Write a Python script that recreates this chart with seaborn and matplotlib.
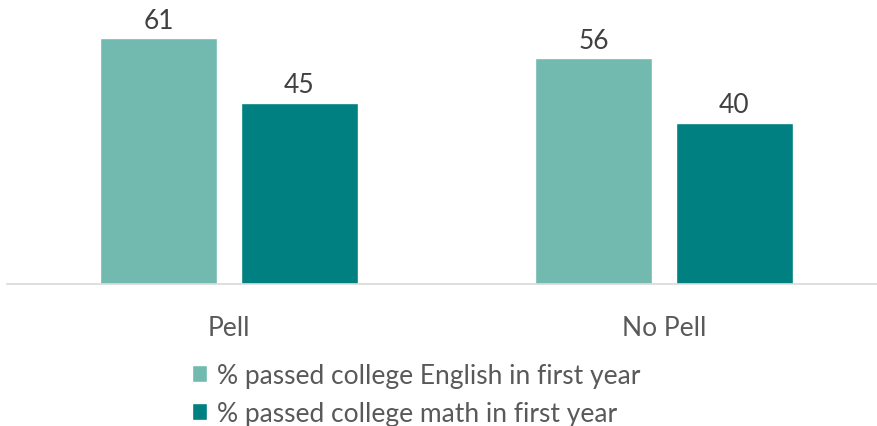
import pandas as pd
import matplotlib.pyplot as plt
import seaborn as sns

# Data
groups = ['Pell', 'No Pell']
series = ['% passed college English in first year', '% passed college math in first year']
english = [61, 56]
math = [45, 40]
colors = ['#72B9AF', '#008080']

df = pd.DataFrame({
    'group': groups * 2,
    'series': [series[0]] * 2 + [series[1]] * 2,
    'value': english + math,
})

sns.set_theme(style='white')
plt.rcParams['font.family'] = ['Lato', 'DejaVu Sans']

fig = plt.figure(figsize=(8.78, 4.27), dpi=100)
ax = fig.add_axes([7 / 878, 1 - 285 / 427, 871 / 878, 280 / 427])

sns.barplot(data=df, x='group', y='value', hue='series', palette=colors,
            width=0.648, gap=0.17, ax=ax, saturation=1, legend=True)

for c in ax.containers:
    ax.bar_label(c, fmt='%d', padding=4, fontsize=19, color='#404040')

ax.set_ylim(0, 280 / 4.03)
ax.set_xlim((7 - 229) / 435, (878 - 229) / 435)
ax.set_yticks([])
ax.set_xlabel('')
ax.set_ylabel('')
ax.tick_params(axis='x', length=0, pad=22, labelsize=19, labelcolor='#595959')
for s in ['top', 'right', 'left']:
    ax.spines[s].set_visible(False)
ax.spines['bottom'].set_color('#D9D9D9')
ax.spines['bottom'].set_linewidth(1.2)

handles, labels = ax.get_legend_handles_labels()
ax.legend_.remove()
fig.legend(handles, labels, loc='upper left', bbox_to_anchor=(181 / 878, 1 - 353 / 427),
           frameon=False, fontsize=19, labelcolor='#595959', handlelength=0.6,
           handleheight=0.6, handletextpad=0.35, labelspacing=0.5, borderaxespad=0)

fig.savefig('out.png', dpi=100)
